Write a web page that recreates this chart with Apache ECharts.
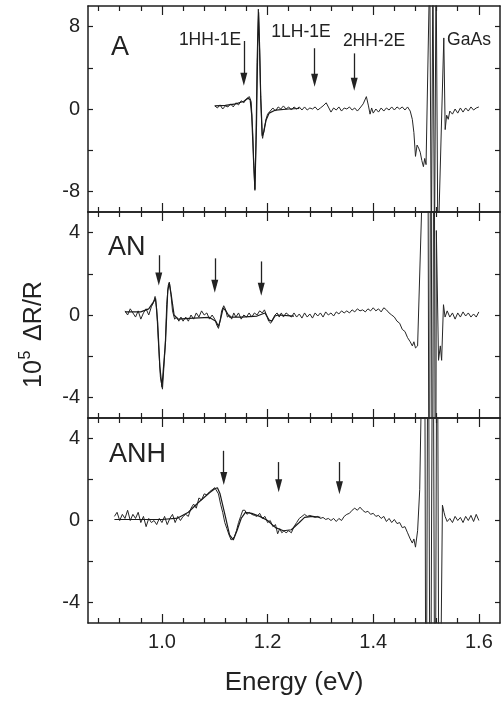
<!DOCTYPE html>
<html>
<head>
<meta charset="utf-8">
<script src="https://cdn.jsdelivr.net/npm/echarts@6/dist/echarts.min.js"></script>
<style>
  html, body { margin: 0; padding: 0; background: #fff; }
  #chart { width: 504px; height: 702px; }
</style>
</head>
<body>
<div id="chart"></div>
<script>
// ---- data: [energy (eV), 10^5 dR/R] ----
const panelNames = ['A', 'AN', 'ANH'];
const transitionNames = ['1HH-1E', '1LH-1E', '2HH-2E', 'GaAs'];

const xMajor = [1.0, 1.2, 1.4, 1.6];
const xMinor = [0.88, 0.92, 0.96, 1.04, 1.08, 1.12, 1.16, 1.24, 1.28, 1.32, 1.36, 1.44, 1.48, 1.52, 1.56];
const yTicksA = [-8, -4, 0, 4, 8];
const yLabelsA = [-8, 0, 8];
const yTicksN = [-4, -2, 0, 2, 4];
const yLabelsN = [-4, 0, 4];

const measA = [[1.100,0.3],[1.105,0.1],[1.110,0.4],[1.115,0.0],[1.120,0.3],[1.125,0.2],[1.130,0.5],[1.135,0.2],[1.140,0.6],[1.145,0.4],[1.150,0.8],[1.155,0.6],[1.160,1.0],[1.1655,1.2],[1.169,0.7],[1.172,-2.4],[1.174,-5.5],[1.176,-7.9],[1.178,-3.0],[1.180,4.5],[1.1825,9.7],[1.185,5.5],[1.187,1.0],[1.1895,-2.5],[1.1906,-2.85],[1.194,-1.8],[1.197,-1.0],[1.200,-0.5],[1.205,-0.2],[1.210,0.1],[1.215,-0.2],[1.220,0.2],[1.225,0.0],[1.230,0.3],[1.235,0.0],[1.240,0.2],[1.245,-0.1],[1.250,0.2],[1.255,0.0],[1.260,0.2],[1.265,-0.1],[1.270,0.2],[1.275,-0.1],[1.280,0.1],[1.285,0.0],[1.290,0.2],[1.295,-0.1],[1.300,0.1],[1.305,0.3],[1.311,0.6],[1.316,0.1],[1.320,-0.3],[1.325,0.1],[1.330,-0.1],[1.335,0.2],[1.340,-0.2],[1.345,0.1],[1.350,0.0],[1.355,0.2],[1.360,-0.1],[1.365,0.1],[1.370,-0.2],[1.375,0.1],[1.381,0.5],[1.387,1.2],[1.391,0.3],[1.394,-0.5],[1.397,0.1],[1.400,-0.4],[1.405,0.0],[1.410,-0.3],[1.415,0.1],[1.420,-0.2],[1.425,0.1],[1.430,-0.1],[1.435,0.2],[1.440,-0.1],[1.445,0.2],[1.450,0.0],[1.455,0.2],[1.460,-0.1],[1.465,0.2],[1.470,-0.2],[1.474,-1.0],[1.477,-2.3],[1.480,-4.6],[1.483,-3.5],[1.486,-3.8],[1.489,-4.2],[1.492,-5.0],[1.495,-5.6],[1.4975,-4.8],[1.500,-5.4],[1.507,14],[1.510,-14],[1.513,14],[1.516,-14],[1.519,14],[1.5225,-14],[1.5336,6.9],[1.5362,-2.0],[1.539,-0.6],[1.542,-1.0],[1.545,-0.2],[1.550,-0.5],[1.555,0.0],[1.560,-0.4],[1.565,0.1],[1.570,-0.3],[1.575,0.1],[1.580,-0.2],[1.585,0.2],[1.590,-0.1],[1.595,0.1],[1.600,0.2]];
const fitA = [[1.100,0.3],[1.120,0.35],[1.140,0.5],[1.155,0.75],[1.163,1.05],[1.167,0.9],[1.170,-0.6],[1.173,-4.5],[1.176,-7.8],[1.179,-1.5],[1.1815,6.5],[1.183,9.4],[1.185,5.8],[1.187,1.2],[1.190,-2.6],[1.193,-2.2],[1.197,-1.1],[1.203,-0.4],[1.215,-0.1],[1.240,0.0],[1.260,0.05]];

const measAN = [[0.930,0.2],[0.935,0.0],[0.940,0.3],[0.945,0.1],[0.950,-0.1],[0.955,0.2],[0.960,-0.2],[0.965,0.1],[0.970,0.3],[0.975,0.0],[0.980,0.4],[0.984,0.6],[0.987,0.9],[0.990,0.3],[0.993,-1.2],[0.997,-3.0],[1.001,-3.6],[1.003,-3.55],[1.006,-1.6],[1.009,0.5],[1.012,1.45],[1.014,1.6],[1.017,1.0],[1.020,0.2],[1.024,-0.2],[1.028,-0.1],[1.032,-0.3],[1.036,-0.1],[1.040,-0.3],[1.045,-0.1],[1.050,-0.3],[1.055,0.0],[1.060,-0.2],[1.065,0.1],[1.070,-0.1],[1.075,0.2],[1.080,0.0],[1.085,0.1],[1.090,-0.2],[1.095,0.0],[1.100,-0.2],[1.104,-0.5],[1.107,-0.65],[1.110,-0.3],[1.113,0.2],[1.117,0.45],[1.120,0.3],[1.124,-0.1],[1.128,0.0],[1.132,-0.2],[1.136,0.1],[1.140,-0.1],[1.145,0.1],[1.150,-0.2],[1.155,0.0],[1.160,-0.1],[1.165,0.1],[1.170,-0.1],[1.175,0.1],[1.180,0.0],[1.185,0.2],[1.190,0.1],[1.194,0.25],[1.198,0.0],[1.202,-0.3],[1.206,-0.4],[1.210,-0.2],[1.214,0.0],[1.218,0.1],[1.222,-0.1],[1.226,0.1],[1.230,-0.1],[1.235,0.1],[1.240,0.0],[1.245,-0.1],[1.250,0.1],[1.255,-0.1],[1.260,0.05],[1.265,-0.15],[1.270,0.1],[1.275,-0.1],[1.280,0.05],[1.285,-0.15],[1.290,0.1],[1.295,-0.05],[1.300,0.1],[1.305,-0.1],[1.310,0.15],[1.315,0.0],[1.320,0.1],[1.325,-0.05],[1.330,0.15],[1.335,0.05],[1.340,0.2],[1.345,0.1],[1.350,0.2],[1.355,0.1],[1.360,0.25],[1.365,0.15],[1.370,0.3],[1.375,0.2],[1.380,0.25],[1.385,0.15],[1.390,0.3],[1.395,0.2],[1.400,0.35],[1.405,0.2],[1.410,0.3],[1.415,0.15],[1.420,0.35],[1.425,0.25],[1.430,0.1],[1.435,0.0],[1.440,-0.1],[1.445,-0.3],[1.450,-0.4],[1.455,-0.7],[1.460,-0.8],[1.465,-1.1],[1.470,-1.3],[1.474,-1.5],[1.477,-1.3],[1.480,-1.6],[1.484,-1.5],[1.503,15],[1.506,-15],[1.509,15],[1.512,-15],[1.515,15],[1.518,-15],[1.5195,4.1],[1.5236,-2.2],[1.527,-1.5],[1.5295,-2.2],[1.533,0.5],[1.536,-0.1],[1.540,0.2],[1.545,-0.1],[1.550,0.1],[1.555,-0.2],[1.560,0.1],[1.565,-0.1],[1.570,0.15],[1.575,-0.05],[1.580,0.1],[1.585,-0.1],[1.590,0.05],[1.595,-0.1],[1.600,0.15]];
const fitAN = [[0.930,0.15],[0.960,0.15],[0.975,0.3],[0.983,0.6],[0.988,0.8],[0.992,-0.4],[0.996,-2.5],[1.000,-3.5],[1.003,-3.5],[1.007,-1.2],[1.011,1.2],[1.014,1.55],[1.018,0.9],[1.023,0.0],[1.030,-0.2],[1.060,-0.15],[1.090,-0.12],[1.102,-0.3],[1.107,-0.55],[1.111,-0.2],[1.116,0.35],[1.121,0.2],[1.128,-0.1],[1.150,-0.1],[1.180,-0.05],[1.195,0.1],[1.203,-0.25],[1.208,-0.3],[1.214,-0.05],[1.220,0.0],[1.250,-0.05]];

const measANH = [[0.910,0.2],[0.915,0.4],[0.920,0.0],[0.925,0.3],[0.930,0.1],[0.935,0.5],[0.940,0.0],[0.945,0.3],[0.950,0.1],[0.955,0.4],[0.960,-0.1],[0.965,0.2],[0.970,-0.3],[0.975,0.1],[0.980,-0.1],[0.985,0.0],[0.990,-0.2],[0.995,0.1],[1.000,-0.1],[1.005,0.2],[1.010,-0.2],[1.015,0.1],[1.020,0.3],[1.025,-0.1],[1.030,0.2],[1.035,0.0],[1.040,0.2],[1.045,0.3],[1.050,0.2],[1.055,0.6],[1.060,0.8],[1.065,0.6],[1.070,1.1],[1.075,1.0],[1.080,1.3],[1.085,1.25],[1.090,1.4],[1.095,1.5],[1.100,1.6],[1.103,1.65],[1.107,1.3],[1.111,0.8],[1.115,0.4],[1.119,-0.1],[1.123,-0.4],[1.127,-0.7],[1.131,-0.95],[1.134,-1.0],[1.137,-0.8],[1.141,-0.5],[1.145,-0.1],[1.149,0.2],[1.153,0.5],[1.157,0.5],[1.161,0.3],[1.165,0.4],[1.170,0.3],[1.175,0.25],[1.180,0.2],[1.185,0.35],[1.190,0.1],[1.195,0.2],[1.200,-0.1],[1.205,0.0],[1.210,-0.3],[1.215,-0.2],[1.219,-0.65],[1.223,-0.4],[1.227,-0.6],[1.231,-0.5],[1.235,-0.6],[1.240,-0.5],[1.245,-0.6],[1.250,-0.3],[1.255,-0.1],[1.260,0.1],[1.265,0.2],[1.270,0.3],[1.275,0.2],[1.280,0.25],[1.285,0.2],[1.290,0.15],[1.295,0.2],[1.300,0.1],[1.305,0.15],[1.310,0.05],[1.315,0.1],[1.320,0.0],[1.325,0.1],[1.330,-0.05],[1.335,0.1],[1.340,0.0],[1.345,0.2],[1.350,0.3],[1.355,0.35],[1.360,0.5],[1.365,0.6],[1.370,0.5],[1.375,0.65],[1.380,0.5],[1.385,0.4],[1.390,0.45],[1.395,0.3],[1.400,0.35],[1.405,0.2],[1.410,0.25],[1.415,0.1],[1.420,0.2],[1.425,-0.05],[1.430,0.1],[1.435,-0.1],[1.440,0.05],[1.445,-0.15],[1.450,-0.1],[1.455,-0.35],[1.460,-0.3],[1.465,-0.6],[1.470,-0.9],[1.474,-1.1],[1.477,-0.9],[1.480,-1.3],[1.484,-0.5],[1.488,1.5],[1.497,15],[1.500,-15],[1.504,15],[1.508,-15],[1.513,15],[1.517,-15],[1.521,15],[1.525,-15],[1.531,0.75],[1.534,0.4],[1.536,0.2],[1.540,-0.05],[1.545,0.1],[1.550,-0.1],[1.555,0.2],[1.560,0.0],[1.565,0.15],[1.570,-0.1],[1.575,0.2],[1.580,0.0],[1.585,0.25],[1.590,-0.05],[1.595,0.3],[1.600,0.0]];
const fitANH = [[0.910,0.05],[0.950,0.05],[1.000,0.05],[1.030,0.12],[1.050,0.4],[1.070,0.9],[1.090,1.35],[1.100,1.55],[1.105,1.6],[1.110,1.3],[1.120,0.2],[1.128,-0.7],[1.135,-0.95],[1.142,-0.5],[1.150,0.1],[1.158,0.4],[1.170,0.35],[1.185,0.2],[1.200,0.0],[1.215,-0.35],[1.230,-0.5],[1.245,-0.45],[1.260,-0.1],[1.270,0.15],[1.285,0.2],[1.300,0.15]];

// arrows: [energy, tail value, arrow-head centre value]
const arrowsA = [[1.155, 6.6, 2.9], [1.289, 5.9, 2.8], [1.364, 5.4, 2.4]];
const arrowsAN = [[0.994, 2.9, 1.75], [1.100, 2.75, 1.4], [1.188, 2.6, 1.25]];
const arrowsANH = [[1.117, 3.4, 2.05], [1.221, 2.85, 1.7], [1.336, 2.85, 1.6]];

// ---- layout ----
const FONT = 'Liberation Sans, Arial, Helvetica, sans-serif';
const INK = '#1e1e1e';
const xMin = 0.86, xMax = 1.64;
const grids = [
  { left: 88, right: 4, top: 6, height: 206 },
  { left: 88, right: 4, top: 212, height: 206 },
  { left: 88, right: 4, top: 418, height: 205 }
];

function makeXAxes(g) {
  const last = g === grids.length - 1;
  const base = {
    type: 'value', gridIndex: g, min: xMin, max: xMax,
    splitLine: { show: false },
    axisLine: { show: true, onZero: false, lineStyle: { color: INK, width: 1.5 } }
  };
  const tick = (vals, len) => ({ show: true, inside: true, length: len, customValues: vals, lineStyle: { color: INK, width: 1.2 } });
  return [
    Object.assign({}, base, {
      position: 'bottom',
      axisTick: tick(xMajor, 9),
      axisLabel: { show: last, customValues: xMajor, formatter: v => v.toFixed(1), color: '#222', fontSize: 20, fontFamily: FONT, margin: 9 },
      name: last ? 'Energy (eV)' : '',
      nameLocation: 'middle', nameGap: 47,
      nameTextStyle: { color: '#222', fontSize: 26, fontFamily: FONT }
    }),
    Object.assign({}, base, { position: 'bottom', axisLine: { show: false, onZero: false }, axisTick: tick(xMinor, 5), axisLabel: { show: false } }),
    Object.assign({}, base, { position: 'top', axisTick: tick(xMajor, 9), axisLabel: { show: false } }),
    Object.assign({}, base, { position: 'top', axisLine: { show: false, onZero: false }, axisTick: tick(xMinor, 5), axisLabel: { show: false } })
  ];
}

function makeYAxes(g, lim, ticks, labels) {
  const base = {
    type: 'value', gridIndex: g, min: -lim, max: lim,
    splitLine: { show: false },
    axisLine: { show: true, onZero: false, lineStyle: { color: INK, width: 1.5 } },
    axisTick: { show: true, inside: true, length: 5, customValues: ticks, lineStyle: { color: INK, width: 1.2 } }
  };
  return [
    Object.assign({}, base, { position: 'left', axisLabel: { customValues: labels, color: '#222', fontSize: 20, fontFamily: FONT, margin: 8 } }),
    Object.assign({}, base, { position: 'right', axisLabel: { show: false } })
  ];
}

function arrowLines(arr) {
  return {
    silent: true,
    animation: false,
    symbol: ['none', 'triangle'],
    symbolSize: [0, 11],
    label: { show: false },
    lineStyle: { color: '#222', width: 1.3, type: 'solid' },
    data: arr.map(a => [{ coord: [a[0], a[1]] }, { coord: [a[0], a[2]], symbolSize: [7, 13] }])
  };
}

function panelSeries(g, meas, fit, arrows) {
  return [
    {
      type: 'line', xAxisIndex: g * 4, yAxisIndex: g * 2, data: meas,
      showSymbol: false, symbol: 'none', clip: true, animation: false,
      lineStyle: { color: '#262626', width: 1 },
      markLine: arrowLines(arrows), z: 2
    },
    {
      type: 'line', xAxisIndex: g * 4, yAxisIndex: g * 2, data: fit,
      showSymbol: false, symbol: 'none', clip: true, animation: false,
      lineStyle: { color: '#1a1a1a', width: 1.2 }, z: 3
    }
  ];
}

function label(text, x, y, size, align, rot) {
  return {
    type: 'text', x: x, y: y, silent: true, rotation: rot || 0,
    style: { text: text, font: size + 'px ' + FONT, fill: '#222', align: align, verticalAlign: 'middle', textAlign: align, textVerticalAlign: 'middle' }
  };
}

const chart = echarts.init(document.getElementById('chart'), null, { renderer: 'canvas' });
chart.setOption({
  animation: false,
  backgroundColor: '#fff',
  grid: grids,
  xAxis: [].concat(makeXAxes(0), makeXAxes(1), makeXAxes(2)),
  yAxis: [].concat(makeYAxes(0, 10, yTicksA, yLabelsA), makeYAxes(1, 5, yTicksN, yLabelsN), makeYAxes(2, 5, yTicksN, yLabelsN)),
  series: [].concat(
    panelSeries(0, measA, fitA, arrowsA),
    panelSeries(1, measAN, fitAN, arrowsAN),
    panelSeries(2, measANH, fitANH, arrowsANH)
  ),
  graphic: [
    label(panelNames[0], 111, 48, 27, 'left'),
    label(panelNames[1], 108, 248, 27, 'left'),
    label(panelNames[2], 109, 455, 27, 'left'),
    label(transitionNames[0], 210, 40, 17.5, 'center'),
    label(transitionNames[1], 301, 32, 17.5, 'center'),
    label(transitionNames[2], 374, 41, 17.5, 'center'),
    label(transitionNames[3], 469, 40, 17.5, 'center'),
    // y axis title: 10^5 ΔR/R, rotated
    label('10', 34, 374, 25, 'center', Math.PI / 2),
    label('5', 26, 355, 16, 'center', Math.PI / 2),
    label('\u0394R/R', 34, 311, 25, 'center', Math.PI / 2)
  ]
});
</script>
</body>
</html>
